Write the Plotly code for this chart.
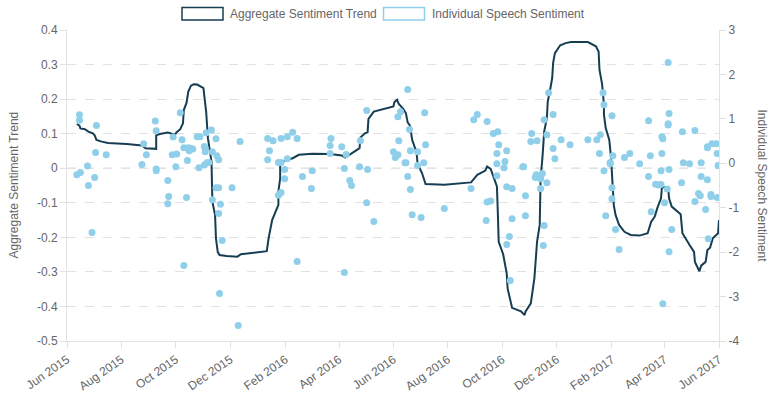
import pandas as pd
import plotly.graph_objects as go

START = pd.Timestamp("2015-06-01")
END = pd.Timestamp("2017-06-01")

# Aggregate sentiment trend: days since 2015-06-01 and value (left axis)
trend_day = [11, 14, 15, 20, 24, 29, 31, 33, 39, 46, 67, 84, 88, 100, 100, 104, 113, 119, 121, 123,
             127, 130, 131, 134, 136, 139, 142, 146, 153, 154, 156, 158, 160, 162, 163, 166, 167, 169, 171, 179,
             191, 195, 224, 226, 230, 233, 237, 237, 239, 239, 243, 249, 253, 260, 275, 295, 308, 312, 318, 323,
             328, 329, 334, 337, 338, 344, 355, 366, 367, 370, 372, 377, 380, 382, 384, 385, 387, 392, 393, 398,
             402, 423, 453, 460, 469, 471, 475, 482, 483, 484, 489, 493, 494, 497, 499, 509, 513, 514, 520, 524,
             527, 530, 531, 533, 535, 538, 539, 542, 544, 545, 547, 553, 559, 565, 584, 593, 596, 597, 600, 602,
             602, 604, 608, 610, 612, 613, 615, 619, 625, 632, 642, 651, 655, 659, 662, 666, 667, 674, 675, 678,
             688, 690, 698, 703, 704, 709, 711, 716, 718, 721, 724, 730, 731]
trend_value = [0.128, 0.123, 0.115, 0.113, 0.106, 0.101, 0.095, 0.082, 0.077, 0.073, 0.070, 0.066, 0.058, 0.056, 0.095, 0.099, 0.103, 0.100, 0.097, 0.104,
               0.113, 0.130, 0.169, 0.189, 0.222, 0.239, 0.243, 0.242, 0.232, 0.208, 0.164, 0.087, 0.048, 0.019, -0.097, -0.135, -0.203, -0.242, -0.251, -0.254,
               -0.256, -0.249, -0.240, -0.203, -0.150, -0.130, -0.106, -0.068, -0.029, 0.012, 0.021, 0.026, 0.029, 0.039, 0.042, 0.041, 0.037, 0.031, 0.042, 0.051,
               0.058, 0.089, 0.101, 0.104, 0.143, 0.164, 0.171, 0.179, 0.191, 0.198, 0.186, 0.172, 0.159, 0.132, 0.126, 0.116, 0.082, 0.045, 0.014, -0.014,
               -0.046, -0.048, -0.041, -0.019, -0.007, 0.005, -0.002, -0.053, -0.126, -0.213, -0.249, -0.304, -0.348, -0.377, -0.404, -0.414, -0.425, -0.415, -0.391, -0.319,
               -0.213, -0.164, -0.029, 0.029, 0.106, 0.145, 0.193, 0.232, 0.261, 0.304, 0.333, 0.356, 0.362, 0.365, 0.365, 0.353, 0.338, 0.285, 0.242, 0.184,
               0.155, 0.116, 0.082, 0.029, -0.048, -0.106, -0.135, -0.164, -0.184, -0.193, -0.195, -0.188, -0.155, -0.140, -0.114, -0.087, -0.055, -0.055, -0.087, -0.111,
               -0.133, -0.188, -0.222, -0.242, -0.271, -0.298, -0.282, -0.271, -0.237, -0.230, -0.203, -0.188, -0.150]

# Individual speech sentiment: days since 2015-06-01 and value (right axis)
speech_day = [14, 14, 11, 15, 23, 24, 28, 31, 32, 33, 44, 84, 86, 89, 99, 100, 100, 100, 113, 114,
              113, 119, 118, 123, 122, 127, 129, 131, 131, 134, 135, 136, 137, 139, 141, 146, 149, 148, 154, 154,
              155, 155, 156, 157, 159, 162, 163, 167, 168, 170, 167, 170, 163, 172, 170, 174, 171, 185, 194, 192,
              225, 231, 227, 225, 240, 247, 253, 258, 237, 240, 247, 244, 244, 240, 237, 264, 275, 274, 258, 296,
              295, 295, 308, 313, 311, 317, 319, 311, 329, 328, 337, 336, 336, 344, 382, 371, 374, 384, 372, 366,
              371, 368, 379, 380, 385, 382, 385, 387, 393, 401, 402, 400, 393, 397, 423, 456, 460, 471, 478, 483,
              484, 482, 493, 482, 491, 490, 482, 453, 493, 499, 471, 475, 470, 499, 496, 493, 497, 511, 512, 514,
              514, 521, 520, 527, 538, 535, 540, 545, 545, 547, 554, 564, 525, 526, 531, 533, 538, 531, 535, 534,
              584, 594, 598, 601, 602, 611, 597, 609, 609, 612, 602, 611, 611, 604, 615, 619, 625, 631, 642, 652,
              654, 652, 655, 674, 675, 674, 674, 667, 668, 667, 675, 666, 660, 663, 666, 673, 670, 678, 675, 668,
              690, 704, 691, 698, 711, 689, 711, 718, 718, 718, 723, 728, 729, 730, 708, 710, 704, 722, 722, 729,
              716, 719]
speech_value = [1.09, 0.97, -0.26, -0.21, -0.06, -0.50, -1.56, -0.32, 0.24, 0.85, 0.19, -0.03, 0.44, 0.19, 0.95, 0.73, -0.13, -0.17, -0.39, -0.75,
                -0.91, 0.59, 0.19, 0.21, -0.08, 1.14, 0.53, -2.30, 0.35, -0.77, 0.06, 0.35, 0.28, 0.33, 0.32, 0.60, 0.60, -0.10, -0.04, 0.38,
                0.34, 0.26, 0.69, 0.01, 0.02, 0.75, 0.26, 0.55, 0.17, 0.08, -0.55, -0.55, -0.82, -0.92, -1.13, -1.74, -2.93, -0.55, 0.49, -3.65,
                0.56, 0.51, 0.28, 0.08, 0.56, 0.60, 0.70, 0.56, 0.02, 0.02, 0.10, -0.14, -0.35, -0.66, -0.72, -0.30, -0.17, -0.57, -2.21, 0.56,
                0.40, 0.22, 0.37, 0.20, -0.12, -0.39, -0.50, -2.46, 0.51, -0.08, -0.14, 1.19, -0.89, -1.31, 1.66, 1.05, 1.16, 0.76, 0.51, 0.26,
                0.19, 0.13, 0.01, 0.01, 0.28, -0.30, -0.59, -1.16, 0.26, 1.14, 0.42, 0.01, -0.05, -1.22, -1.02, 0.98, 1.10, 0.94, 0.67, 0.71,
                0.42, 0.22, 0.28, -0.01, 0.04, -0.10, -0.28, -0.57, -0.53, -0.57, -0.87, -0.85, -1.29, -1.25, -1.65, -1.83, -2.64, -0.08, -0.08, -0.73,
                -1.18, 0.67, 0.49, 0.51, 0.64, 0.98, 1.59, 1.10, 0.33, 0.10, 0.53, 0.42, -0.32, -0.26, -0.35, -0.23, -0.44, -0.57, -1.40, -1.85,
                0.53, 0.53, 0.64, 1.59, 1.32, 1.07, 0.22, 0.02, -0.01, 0.17, -0.17, -0.55, -0.80, -1.18, -1.49, -1.94, 0.13, 0.22, -0.01, 0.96,
                0.17, -0.30, -1.09, 2.27, 1.12, 0.89, 0.86, 0.60, 0.55, 0.22, -0.14, -0.17, -0.47, -0.49, -0.48, -0.58, -0.89, -1.49, -1.99, -3.16,
                0.71, 0.74, 0.01, -0.01, 0.01, -0.44, -0.30, -0.37, 0.37, 0.35, 0.44, 0.44, 0.22, -0.05, -0.68, -0.73, -0.86, -0.70, -0.75, -0.77,
                -1.04, -1.70]

left_ticks = [-0.5, -0.4, -0.3, -0.2, -0.1, 0, 0.1, 0.2, 0.3, 0.4]
left_labels = ["-0.5", "-0.4", "-0.3", "-0.2", "-0.1", "0", "0.1", "0.2", "0.3", "0.4"]
right_ticks = [-4, -3, -2, -1, 0, 1, 2, 3]
right_labels = ["-4", "-3", "-2", "-1", "0", "1", "2", "3"]

series_names = ["Aggregate Sentiment Trend", "Individual Speech Sentiment"]
axis_titles = ["Aggregate Sentiment Trend", "Individual Speech Sentiment"]

LINE_COLOR = "#173d53"
DOT_COLOR = "#8fcfea"
TEXT_COLOR = "#666666"
GRID_COLOR = "#e2e2e2"
FONT = "Liberation Sans, Arial, Helvetica, sans-serif"

trend_dates = START + pd.to_timedelta(trend_day, unit="D")
speech_dates = START + pd.to_timedelta(speech_day, unit="D")

# plot-area geometry in pixels (for legend/title placement)
W, H = 776, 398
L, R, T, B = 67, 57, 30, 57
PW, PH = W - L - R, H - T - B


def px_x(p):
    return (p - L) / PW


def px_y(p):
    return (H - B - p) / PH


fig = go.Figure()
fig.add_trace(go.Scatter(
    x=speech_dates, y=speech_value, mode="markers", name=series_names[1],
    marker=dict(size=7, color=DOT_COLOR), yaxis="y2", showlegend=False,
))
fig.add_trace(go.Scatter(
    x=trend_dates, y=trend_value, mode="lines", name=series_names[0],
    line=dict(color=LINE_COLOR, width=2), yaxis="y", showlegend=False,
))

shapes = [
    dict(type="line", xref="paper", x0=0, x1=1, yref="y", y0=0, y1=0,
         line=dict(color="#bdbdbd", width=1, dash="dash"), layer="below"),
    dict(type="rect", xref="paper", yref="paper", x0=px_x(182), x1=px_x(223), y0=px_y(20), y1=px_y(7.5),
         line=dict(color=LINE_COLOR, width=1.5), fillcolor="white"),
    dict(type="rect", xref="paper", yref="paper", x0=px_x(383.5), x1=px_x(424.5), y0=px_y(20), y1=px_y(7.5),
         line=dict(color=DOT_COLOR, width=1.5), fillcolor="white"),
]
annotations = [
    dict(xref="paper", yref="paper", x=px_x(228), y=px_y(14), xanchor="left", yanchor="middle",
         text=series_names[0], showarrow=False, font=dict(size=12, color=TEXT_COLOR, family=FONT)),
    dict(xref="paper", yref="paper", x=px_x(430), y=px_y(14), xanchor="left", yanchor="middle",
         text=series_names[1], showarrow=False, font=dict(size=12, color=TEXT_COLOR, family=FONT)),
    dict(xref="paper", yref="paper", x=px_x(13), y=0.5, xanchor="center", yanchor="middle",
         text=axis_titles[0], textangle=-90, showarrow=False,
         font=dict(size=12, color=TEXT_COLOR, family=FONT)),
    dict(xref="paper", yref="paper", x=px_x(762), y=0.5, xanchor="center", yanchor="middle",
         text=axis_titles[1], textangle=90, showarrow=False,
         font=dict(size=12, color=TEXT_COLOR, family=FONT)),
]

fig.update_layout(
    width=W, height=H,
    margin=dict(l=L, r=R, t=T, b=B, pad=0, autoexpand=False),
    paper_bgcolor="white", plot_bgcolor="white",
    font=dict(family=FONT, size=12, color=TEXT_COLOR),
    showlegend=False,
    shapes=shapes, annotations=annotations,
    xaxis=dict(
        type="date", range=[START, END], automargin=False,
        tickmode="linear", tick0=START, dtick="M2", tickformat="%b %Y",
        tickangle=-35, showgrid=False, zeroline=False,
        showline=True, linecolor=GRID_COLOR, linewidth=1,
        ticks="outside", ticklen=6, tickcolor=GRID_COLOR,
        tickfont=dict(size=12, color=TEXT_COLOR),
    ),
    yaxis=dict(
        range=[-0.5, 0.4], automargin=False,
        tickmode="array", tickvals=left_ticks, ticktext=left_labels,
        showgrid=True, gridcolor=GRID_COLOR, griddash="dash", gridwidth=1,
        zeroline=False, showline=True, linecolor=GRID_COLOR,
        ticks="outside", ticklen=6, tickcolor=GRID_COLOR,
        tickfont=dict(size=12, color=TEXT_COLOR),
    ),
    yaxis2=dict(
        range=[-4, 3], overlaying="y", side="right", automargin=False,
        tickmode="array", tickvals=right_ticks, ticktext=right_labels,
        showgrid=False, zeroline=False, showline=True, linecolor=GRID_COLOR,
        ticks="outside", ticklen=6, tickcolor=GRID_COLOR,
        tickfont=dict(size=12, color=TEXT_COLOR),
    ),
)

fig.write_html(
    "out.html",
    config={"displayModeBar": False},
    post_script="document.body.style.margin='0';document.body.style.overflow='hidden';",
)
